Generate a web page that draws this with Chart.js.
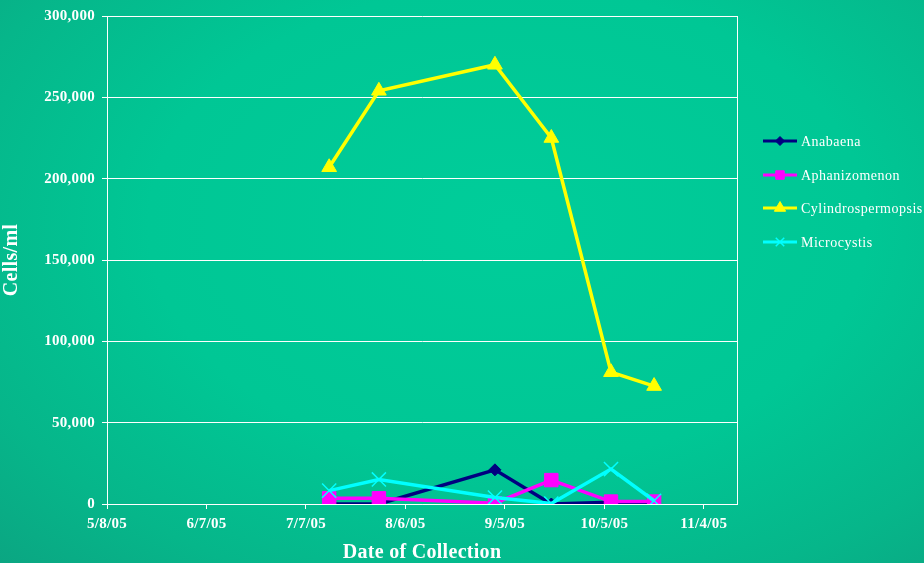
<!DOCTYPE html>
<html>
<head>
<meta charset="utf-8">
<script src="https://cdn.jsdelivr.net/npm/chart.js@4.4.1/dist/chart.umd.min.js"></script>
<style>
  html, body { margin: 0; padding: 0; }
  body {
    width: 924px; height: 563px; overflow: hidden;
    background: radial-gradient(ellipse at 55% 40%, #00cd9a 0%, #00c795 50%, #06b68a 80%, #0ba682 100%);
  }
  #wrap { position: relative; width: 924px; height: 563px; }
</style>
</head>
<body>
<div id="wrap"><canvas id="myChart" width="924" height="563"></canvas></div>
<script>
// collection dates and counts (cells/ml)
var dates = ["7/14/05", "7/29/05", "9/2/05", "9/19/05", "10/7/05", "10/20/05"];
var anabaena = [0, 0, 21000, 0, 1000, 1000];
var aphanizomenon = [3500, 3500, 500, 14700, 1500, 1500];
var cylindro = [207000, 254000, 270000, 225000, 81000, 72500];
var microcystis = [8200, 15100, 4000, 300, 21500, 2000];

var xTickLabels = ["5/8/05", "6/7/05", "7/7/05", "8/6/05", "9/5/05", "10/5/05", "11/4/05"];
var xMaxLabel = "11/14/05";
var yTicks = [0, 50000, 100000, 150000, 200000, 250000, 300000];

// m/d/yy -> day number
function toDay(s) {
  var p = s.split("/");
  return Date.UTC(2000 + +p[2], +p[0] - 1, +p[1]) / 86400000;
}
function fromDay(d) {
  var t = new Date(d * 86400000);
  return (t.getUTCMonth() + 1) + "/" + t.getUTCDate() + "/" + String(t.getUTCFullYear()).slice(2);
}
function pts(vals) {
  return vals.map(function (v, i) { return { x: toDay(dates[i]), y: v }; });
}

var serif = "'Liberation Serif', 'Times New Roman', serif";

var series = [
  { label: "Anabaena", data: anabaena, color: "#000080", style: "rectRot", r: 6, lr: 4.5 },
  { label: "Aphanizomenon", data: aphanizomenon, color: "#ff00ff", style: "rect", r: 9.5, lr: 6 },
  { label: "Cylindrospermopsis", data: cylindro, color: "#ffff00", style: "triangle", r: 8.5, lr: 6.5 },
  { label: "Microcystis", data: microcystis, color: "#00ffff", style: "crossRot", r: 10, lr: 6 }
];

var spacing = {
  id: "spacing",
  beforeLayout: function (chart) { chart.ctx.letterSpacing = "0.3px"; },
  beforeDraw: function (chart) { chart.ctx.letterSpacing = "0.3px"; }
};

// right border of plot + legend
var extras = {
  id: "extras",
  afterDraw: function (chart) {
    var ctx = chart.ctx, a = chart.chartArea;
    ctx.save();
    ctx.strokeStyle = "#ffffff";
    ctx.lineWidth = 1;
    ctx.beginPath();
    ctx.moveTo(Math.round(a.right) + 0.5, a.top);
    ctx.lineTo(Math.round(a.right) + 0.5, a.bottom);
    ctx.stroke();

    var x0 = 763, x1 = 797, rows = [141, 175, 208, 242];
    series.forEach(function (s, i) {
      var y = rows[i];
      ctx.strokeStyle = s.color;
      ctx.fillStyle = s.color;
      ctx.lineWidth = 3;
      ctx.beginPath();
      ctx.moveTo(x0, y);
      ctx.lineTo(x1, y);
      ctx.stroke();
      ctx.lineWidth = s.style === "crossRot" ? 1.5 : 1;
      Chart.helpers.drawPoint(ctx, { pointStyle: s.style, radius: s.lr, rotation: 0, borderWidth: 1 }, (x0 + x1) / 2, y);
      ctx.fillStyle = "#ffffff";
      ctx.font = "14px " + serif;
      ctx.letterSpacing = "0.5px";
      ctx.textBaseline = "middle";
      ctx.textAlign = "left";
      ctx.fillText(s.label, 801, y + 1);
    });
    ctx.restore();
  }
};

new Chart("myChart", {
  type: "line",
  data: {
    datasets: series.map(function (s, i) {
      return {
        label: s.label,
        data: pts(s.data),
        borderColor: s.color,
        backgroundColor: s.color,
        borderWidth: 3.5,
        pointStyle: s.style,
        pointRadius: s.r,
        pointBorderWidth: s.style === "crossRot" ? 1.5 : 1,
        pointBorderColor: s.color,
        pointBackgroundColor: s.color,
        tension: 0,
        order: 3 - i
      };
    })
  },
  options: {
    responsive: false,
    animation: false,
    layout: { padding: { top: 15, right: 187, left: 0, bottom: 0 } },
    plugins: {
      legend: { display: false },
      tooltip: { enabled: false }
    },
    scales: {
      x: {
        type: "linear",
        min: toDay(xTickLabels[0]),
        max: toDay(xMaxLabel),
        afterBuildTicks: function (scale) {
          scale.ticks = xTickLabels.map(function (l) { return { value: toDay(l) }; });
        },
        afterFit: function (scale) { scale.height = 59; },
        grid: { drawOnChartArea: false, color: "#ffffff", tickLength: 5, lineWidth: 1 },
        border: { color: "#ffffff", width: 1 },
        ticks: {
          color: "#ffffff",
          font: { family: serif, size: 15, weight: "bold" },
          padding: 6,
          maxRotation: 0,
          autoSkip: false,
          callback: function (v) { return fromDay(v); }
        },
        title: {
          display: true,
          text: "Date of Collection",
          color: "#ffffff",
          font: { family: serif, size: 20, weight: "bold", lineHeight: 1 },
          padding: { top: 0, bottom: 0 }
        }
      },
      y: {
        min: 0,
        max: 300000,
        afterBuildTicks: function (scale) {
          scale.ticks = yTicks.map(function (v) { return { value: v }; });
        },
        afterFit: function (scale) { scale.width = 107; },
        grid: { color: "#ffffff", tickLength: 5, lineWidth: 1 },
        border: { color: "#ffffff", width: 1 },
        ticks: {
          color: "#ffffff",
          font: { family: serif, size: 15, weight: "bold" },
          padding: 7,
          callback: function (v) { return v.toLocaleString("en-US"); }
        },
        title: {
          display: true,
          text: "Cells/ml",
          color: "#ffffff",
          font: { family: serif, size: 20, weight: "bold" },
          padding: { top: 0, bottom: 0 }
        }
      }
    }
  },
  plugins: [spacing, extras]
});
</script>
</body>
</html>
